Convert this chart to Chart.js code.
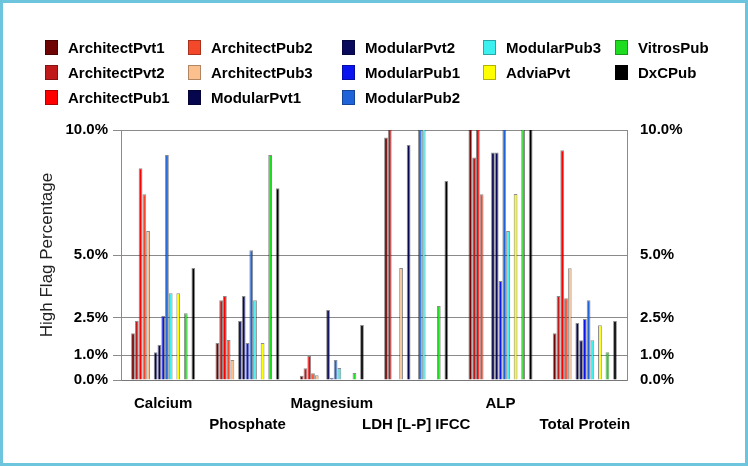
<!DOCTYPE html>
<html>
<head>
<meta charset="utf-8">
<script src="https://cdn.jsdelivr.net/npm/chart.js@4.4.1/dist/chart.umd.min.js"></script>
<style>
  html, body { margin: 0; padding: 0; background: #fff; }
  #wrap { position: relative; width: 748px; height: 466px; overflow: hidden; background: #fff; }
  #chart { position: absolute; left: 0; top: 0; }
  #frame { position: absolute; left: 0; top: 0; width: 748px; height: 466px; box-sizing: border-box; border: 3px solid #6cc5dd; pointer-events: none; }
  #legend { position: absolute; left: 0; top: 0; font: bold 15px "Liberation Sans", Arial, sans-serif; color: #000; }
  .item { position: absolute; display: flex; align-items: center; white-space: nowrap; height: 18px; }
  .swatch { width: 13px; height: 15px; margin-right: 10px; box-sizing: border-box; border: 1px solid rgba(0, 0, 0, 0.3); }
</style>
</head>
<body>
<div id="wrap">
  <canvas id="chart" width="748" height="466"></canvas>
  <div id="legend"></div>
  <div id="frame"></div>
</div>
<script>
// Data (high flag %, axis capped at 10%)
const categories = ["Calcium", "Phosphate", "Magnesium", "LDH [L-P] IFCC", "ALP", "Total Protein"]
const tickValues = [0, 1, 2.5, 5, 10]

const architectPvt1 = [1.87, 1.48, 0.17, 9.7, 11, 1.87]
const architectPvt2 = [2.36, 3.19, 0.47, 11, 8.9, 3.36]
const architectPub1 = [8.47, 3.36, 0.96, 0, 11, 9.19]
const architectPub2 = [7.43, 1.6, 0.27, 0, 7.43, 3.27]
const architectPub3 = [5.96, 0.8, 0.19, 4.48, 0, 4.47]
const modularPvt1 = [1.11, 2.36, 0, 9.4, 9.1, 2.28]
const modularPvt2 = [1.4, 3.36, 2.8, 0, 9.1, 1.59]
const modularPub1 = [2.57, 1.48, 0.09, 0, 3.96, 2.44]
const modularPub2 = [9.0, 5.19, 0.8, 11, 11, 3.19]
const modularPub3 = [3.47, 3.19, 0.48, 11, 5.96, 1.59]
const adviaPvt = [3.47, 1.48, 0, 0, 7.44, 2.19]
const vitrosPub = [2.67, 9.0, 0.28, 2.96, 11, 1.11]
const dxcPub = [4.48, 7.67, 2.2, 7.96, 11, 2.36]

const seriesNames = ["ArchitectPvt1", "ArchitectPvt2", "ArchitectPub1", "ArchitectPub2", "ArchitectPub3",
  "ModularPvt1", "ModularPvt2", "ModularPub1", "ModularPub2", "ModularPub3",
  "AdviaPvt", "VitrosPub", "DxCPub"]
const seriesValues = [architectPvt1, architectPvt2, architectPub1, architectPub2, architectPub3,
  modularPvt1, modularPvt2, modularPub1, modularPub2, modularPub3,
  adviaPvt, vitrosPub, dxcPub]
const seriesColors = ["#6e0404", "#c01a1a", "#ff0000", "#f4482a", "#fcc08e",
  "#06064e", "#0a0a5c", "#0a14ee", "#1e64d8", "#3cf0f0",
  "#ffff00", "#20dc20", "#000000"]

// empty slots between instrument groups
const gapAfter = ["ArchitectPub3", "ModularPub3", "AdviaPvt", "VitrosPub"]

// legend layout as it appears in the picture
const legendRows = [
  ["ArchitectPvt1", "ArchitectPub2", "ModularPvt2", "ModularPub3", "VitrosPub"],
  ["ArchitectPvt2", "ArchitectPub3", "ModularPub1", "AdviaPvt", "DxCPub"],
  ["ArchitectPub1", "ModularPvt1", "ModularPub2"],
]
const legendColX = [45, 188, 342, 483, 615]
const legendRowY = [47, 72, 97]

const fontFamily = '"Liberation Sans", Arial, sans-serif'
const gridColor = "#8a8a8a"

function buildDatasets() {
  const sets = []
  seriesNames.forEach((name, i) => {
    sets.push({
      label: name,
      data: seriesValues[i],
      backgroundColor: seriesColors[i],
      borderColor: "rgba(0,0,0,0.45)",
      borderWidth: 1,
      yAxisID: "y",
    })
    if (gapAfter.includes(name)) {
      sets.push({ label: "", data: categories.map(() => null), yAxisID: "y" })
    }
  })
  return sets
}

function buildLegend() {
  const box = document.getElementById("legend")
  legendRows.forEach((row, r) => {
    row.forEach((name, c) => {
      const idx = seriesNames.indexOf(name)
      const item = document.createElement("div")
      item.className = "item"
      item.style.left = legendColX[c] + "px"
      item.style.top = legendRowY[r] - 9 + "px"
      const sw = document.createElement("span")
      sw.className = "swatch"
      sw.style.background = seriesColors[idx]
      const txt = document.createElement("span")
      txt.textContent = name
      item.appendChild(sw)
      item.appendChild(txt)
      box.appendChild(item)
    })
  })
}

const fixTicks = (scale) => {
  scale.ticks = tickValues.map((v) => ({ value: v }))
}
const pct = (v) => Number(v).toFixed(1) + "%"

new Chart(document.getElementById("chart"), {
  type: "bar",
  data: {
    labels: categories,
    datasets: buildDatasets(),
  },
  options: {
    responsive: false,
    animation: false,
    layout: { padding: { top: 130, left: 0, right: 0, bottom: 0 } },
    datasets: {
      bar: { barPercentage: 1, categoryPercentage: 0.76 },
    },
    plugins: {
      legend: { display: false },
      tooltip: { enabled: false },
    },
    scales: {
      x: {
        grid: { display: false, drawTicks: false },
        border: { display: true, color: "#777" },
        ticks: {
          color: "#000",
          font: { family: fontFamily, size: 15, weight: "bold", lineHeight: 1.35 },
          padding: 14,
          maxRotation: 0,
          autoSkip: false,
          callback: (v, i) => (i % 2 ? ["", categories[i]] : categories[i]),
        },
        afterFit: (s) => { s.height = 86 },
      },
      y: {
        position: "left",
        min: 0,
        max: 10,
        afterBuildTicks: fixTicks,
        ticks: {
          color: "#000",
          font: { family: fontFamily, size: 15, weight: "bold" },
          padding: 5,
          callback: pct,
        },
        grid: { color: gridColor, tickColor: gridColor, tickLength: 8 },
        border: { color: gridColor },
        title: {
          display: true,
          text: "High Flag Percentage",
          color: "#222",
          font: { family: fontFamily, size: 17 },
          padding: { top: 37 },
        },
        afterFit: (s) => { s.width = 121 },
      },
      y2: {
        position: "right",
        min: 0,
        max: 10,
        afterBuildTicks: fixTicks,
        ticks: {
          color: "#000",
          font: { family: fontFamily, size: 15, weight: "bold" },
          padding: 13,
          callback: pct,
        },
        grid: { drawOnChartArea: false, drawTicks: false },
        border: { color: gridColor },
        afterFit: (s) => { s.width = 121 },
      },
    },
  },
})

buildLegend()
</script>
</body>
</html>
